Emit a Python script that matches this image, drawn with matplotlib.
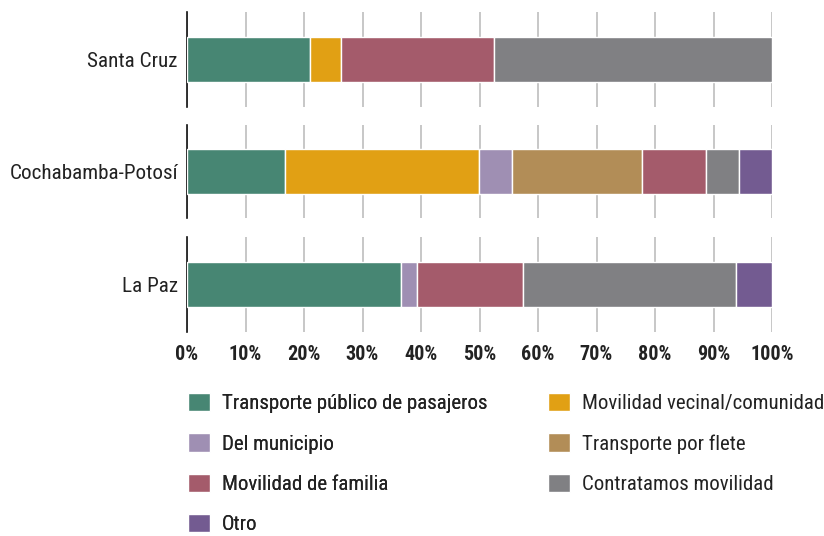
import numpy as np
import matplotlib
matplotlib.use("Agg")
import matplotlib.pyplot as plt
from matplotlib.patches import Patch
from matplotlib import font_manager as fm

regions = ["Santa Cruz", "Cochabamba-Potosí", "La Paz"]
categories = ["Transporte público de pasajeros", "Movilidad vecinal/comunidad",
              "Del municipio", "Transporte por flete", "Movilidad de familia",
              "Contratamos movilidad", "Otro"]
colors = ["#478673", "#e1a014", "#9f8fb3", "#b28d57", "#a45b6b", "#808083", "#735b91"]

# percentages per region, same order as categories
santa_cruz = [21.0, 5.3, 0.0, 0.0, 26.1, 47.6, 0.0]
cochabamba = [16.8, 33.1, 5.7, 22.2, 10.9, 5.7, 5.6]
la_paz = [36.5, 0.0, 2.8, 0.0, 18.2, 36.3, 6.2]
values = [santa_cruz, cochabamba, la_paz]

ticks = np.arange(0, 101, 10)
tick_labels = [f"{t}%" for t in ticks]

# want a narrow face; take whatever condensed font is around
names = {f.name for f in fm.fontManager.ttflist}
family = "DejaVu Sans"
for cand in ["Roboto Condensed", "Liberation Sans Narrow", "Open Sans Condensed"]:
    if cand in names:
        family = cand
        break
plt.rcParams['font.family'] = [family, 'DejaVu Sans']
plt.rcParams['font.stretch'] = 'condensed'
txt = "#222222"

fig = plt.figure(figsize=(8.24, 5.36), dpi=100)
left, right = 187 / 824, 772 / 824
boxes = [(12, 107), (125, 218), (237, 332)]

for i, (name, vals) in enumerate(zip(regions, values)):
    top, bot = boxes[i]
    ax = fig.add_axes([left, 1 - bot / 536, right - left, (bot - top) / 536])
    start = 0
    for v, c in zip(vals, colors):
        if v > 0:
            ax.barh(0, v, left=start, height=0.48, color=c, edgecolor="white",
                    linewidth=1, zorder=3)
        start += v
    ax.set_xlim(0, 100)
    ax.set_ylim(-0.5, 0.5)
    ax.set_xticks(ticks)
    ax.grid(axis="x", color="#bdbdbd", linewidth=1.2, zorder=0)
    ax.set_yticks([0])
    ax.set_yticklabels([name], fontsize=15.2, color=txt)
    ax.tick_params(length=0, pad=6.5)
    for s in ["top", "right", "bottom"]:
        ax.spines[s].set_visible(False)
    ax.spines["left"].set_color("#111111")
    ax.spines["left"].set_linewidth(1.2)
    if i < 2:
        ax.set_xticklabels([])
    else:
        ax.set_xticklabels(tick_labels, fontsize=14.5, fontweight="bold", color=txt)
        ax.tick_params(axis="x", pad=9.5)

# two legend columns, read row-wise
handles = [Patch(facecolor=c, edgecolor="white") for c in colors]
leg_kw = dict(loc="upper left", frameon=False, fontsize=15, handlelength=1.06,
              handleheight=0.96, handletextpad=0.58, labelspacing=0.97,
              borderpad=0, borderaxespad=0, labelcolor=txt)
col1 = [0, 2, 4, 6]
col2 = [1, 3, 5]
leg1 = fig.legend([handles[k] for k in col1], [categories[k] for k in col1],
                  bbox_to_anchor=(188 / 824, 1 - 393 / 536), **leg_kw)
fig.add_artist(leg1)
fig.legend([handles[k] for k in col2], [categories[k] for k in col2],
           bbox_to_anchor=(548 / 824, 1 - 393 / 536), **leg_kw)

plt.savefig("out.png", dpi=100)
